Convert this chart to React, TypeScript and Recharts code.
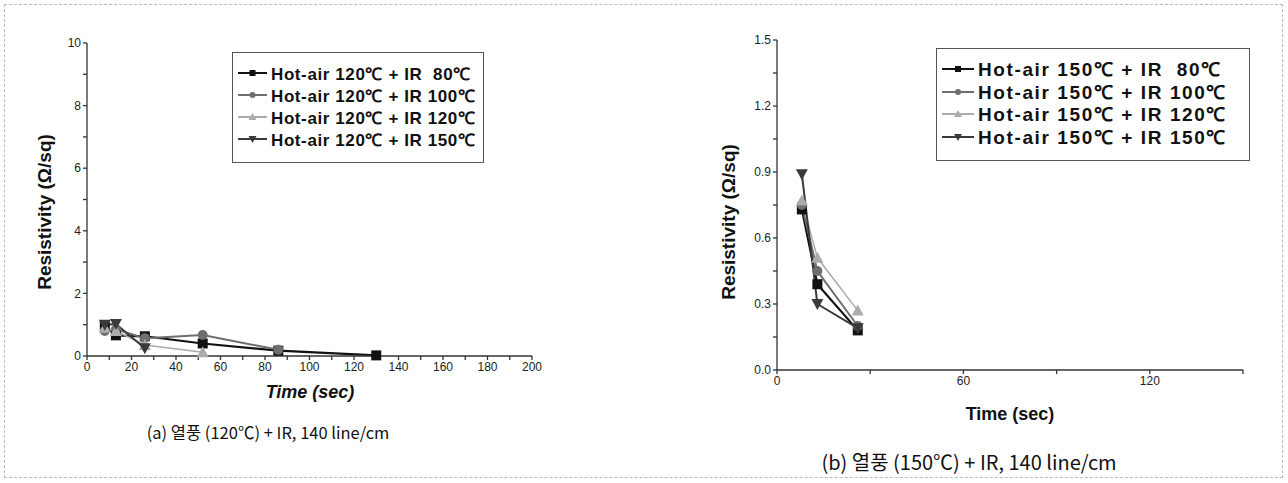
import React from "react";
import { LineChart, Line, XAxis, YAxis } from "recharts";

// (a) hot-air 120 C, times (sec) and resistivity (ohm/sq)
const timesA80 = [8, 13, 26, 52, 86, 130];
const resA80 = [0.95, 0.66, 0.63, 0.4, 0.17, 0.02];
const timesA100 = [8, 13, 26, 52, 86];
const resA100 = [0.8, 0.85, 0.57, 0.67, 0.2];
const timesA120 = [8, 13, 26, 52];
const resA120 = [0.9, 0.8, 0.35, 0.12];
const timesA150 = [8, 13, 26];
const resA150 = [1.0, 1.02, 0.25];

// (b) hot-air 150 C
const timesB = [8, 13, 26];
const resB80 = [0.73, 0.39, 0.18];
const resB100 = [0.75, 0.45, 0.2];
const resB120 = [0.77, 0.51, 0.27];
const resB150 = [0.89, 0.3, 0.19];

const irTemps = [" 80", "100", "120", "150"];
const ticksAX = [0, 10, 20, 30, 40, 50, 60, 70, 80, 90, 100, 110, 120, 130, 140, 150, 160, 170, 180, 190, 200];
const ticksAY = [0, 1, 2, 3, 4, 5, 6, 7, 8, 9, 10];
const ticksBX = [0, 30, 60, 90, 120, 150];
const ticksBY = [0, 0.15, 0.3, 0.45, 0.6, 0.75, 0.9, 1.05, 1.2, 1.35, 1.5];

type Shape = "square" | "circle" | "up" | "down";
const shapes: Shape[] = ["square", "circle", "up", "down"];
const colors = ["#111111", "#6e6e6e", "#ababab", "#3a3a3a"];
const widths = [2.2, 2, 1.5, 2];

const zip = (xs: number[], ys: number[]) => xs.map((t, i) => ({ t, r: ys[i] }));

const seriesA = [
  zip(timesA80, resA80),
  zip(timesA100, resA100),
  zip(timesA120, resA120),
  zip(timesA150, resA150),
];
const seriesB = [
  zip(timesB, resB80),
  zip(timesB, resB100),
  zip(timesB, resB120),
  zip(timesB, resB150),
];

const FONT = '"Liberation Sans", Arial, sans-serif';

function Marker({ cx, cy, shape, color, s = 5 }: { cx: number; cy: number; shape: Shape; color: string; s?: number }) {
  if (shape === "square") return <rect x={cx - s} y={cy - s} width={2 * s} height={2 * s} fill={color} />;
  if (shape === "circle") return <circle cx={cx} cy={cy} r={s} fill={color} />;
  if (shape === "up")
    return <polygon points={`${cx},${cy - s - 1} ${cx - s - 1},${cy + s} ${cx + s + 1},${cy + s}`} fill={color} />;
  return <polygon points={`${cx},${cy + s + 1} ${cx - s - 1},${cy - s} ${cx + s + 1},${cy - s}`} fill={color} />;
}

function LegendBox({ hot, left, top, width, height, fontSize, spacing, rowH, symW }: {
  hot: string; left: number; top: number; width: number; height: number;
  fontSize: number; spacing: number; rowH: number; symW: number;
}) {
  return (
    <div
      style={{
        position: "absolute",
        left,
        top,
        width,
        height,
        border: "1px solid #555",
        background: "#fff",
        boxSizing: "border-box",
        paddingTop: 9,
        fontFamily: FONT,
        fontWeight: "bold",
        fontSize,
        letterSpacing: spacing,
        color: "#111",
      }}
    >
      {irTemps.map((ir, i) => (
        <div key={ir} style={{ display: "flex", alignItems: "center", height: rowH, whiteSpace: "pre" }}>
          <svg width={symW} height={14} style={{ marginLeft: 4, marginRight: 3 }}>
            <line x1={1} y1={7} x2={symW - 1} y2={7} stroke={colors[i]} strokeWidth={2} />
            <Marker cx={symW / 2} cy={7} shape={shapes[i]} color={colors[i]} s={3} />
          </svg>
          <span>{`Hot-air ${hot}\u2103 + IR ${ir}\u2103`}</span>
        </div>
      ))}
    </div>
  );
}

const axisStyle = { stroke: "#333", strokeWidth: 1.3 };
const tickStyle = { fontFamily: FONT, fontSize: 12, fill: "#222" };

const abs = (left: number, top: number, extra: React.CSSProperties): React.CSSProperties => ({
  position: "absolute",
  left,
  top,
  whiteSpace: "nowrap",
  color: "#111",
  ...extra,
});

export default function App() {
  return (
    <div style={{ position: "absolute", left: 0, top: 0, width: 1288, height: 483, background: "#fff", fontFamily: FONT }}>
      <div
        style={{
          position: "absolute",
          left: 4,
          top: 4,
          width: 1279,
          height: 474,
          border: "1px dashed #bbb",
          boxSizing: "border-box",
        }}
      />

      {/* (a) */}
      <div style={{ position: "absolute", left: 0, top: 0 }}>
        <LineChart width={560} height={420} margin={{ top: 43, right: 28, bottom: 34, left: 47 }}>
          <XAxis
            type="number"
            dataKey="t"
            domain={[0, 200]}
            ticks={ticksAX}
            interval={0}
            tickFormatter={(v: number) => (v % 20 === 0 ? String(v) : "")}
            axisLine={axisStyle}
            tickLine={axisStyle}
            tickSize={4}
            tick={tickStyle}
            height={30}
          />
          <YAxis
            type="number"
            domain={[0, 10]}
            ticks={ticksAY}
            interval={0}
            tickFormatter={(v: number) => (v % 2 === 0 ? String(v) : "")}
            axisLine={axisStyle}
            tickLine={axisStyle}
            tickSize={4}
            tick={tickStyle}
            width={40}
          />
          {seriesA.map((d, i) => (
            <Line
              key={i}
              data={d}
              dataKey="r"
              stroke={colors[i]}
              strokeWidth={widths[i]}
              isAnimationActive={false}
              dot={(p: any) => <Marker key={p.index} cx={p.cx} cy={p.cy} shape={shapes[i]} color={colors[i]} />}
            />
          ))}
        </LineChart>
      </div>

      {/* (b) */}
      <div style={{ position: "absolute", left: 700, top: 0 }}>
        <LineChart width={560} height={420} margin={{ top: 40, right: 17, bottom: 20, left: 37 }}>
          <XAxis
            type="number"
            dataKey="t"
            domain={[0, 150]}
            ticks={ticksBX}
            interval={0}
            tickFormatter={(v: number) => (v % 60 === 0 ? String(v) : "")}
            axisLine={axisStyle}
            tickLine={axisStyle}
            tickSize={4}
            tick={tickStyle}
            height={30}
          />
          <YAxis
            type="number"
            domain={[0, 1.5]}
            ticks={ticksBY}
            interval={0}
            tickFormatter={(v: number) => (Math.round(v * 100) % 30 === 0 ? v.toFixed(1) : "")}
            axisLine={axisStyle}
            tickLine={axisStyle}
            tickSize={4}
            tick={tickStyle}
            width={40}
          />
          {seriesB.map((d, i) => (
            <Line
              key={i}
              data={d}
              dataKey="r"
              stroke={colors[i]}
              strokeWidth={widths[i]}
              isAnimationActive={false}
              dot={(p: any) => <Marker key={p.index} cx={p.cx} cy={p.cy} shape={shapes[i]} color={colors[i]} />}
            />
          ))}
        </LineChart>
      </div>

      <LegendBox hot="120" left={232} top={52} width={252} height={111} fontSize={17} spacing={0.6} rowH={22} symW={31} />
      <LegendBox hot="150" left={936} top={48} width={314} height={113} fontSize={19} spacing={1.6} rowH={22.5} symW={34} />

      {/* axis titles and captions */}
      <div style={abs(45, 212, { transform: "translate(-50%, -50%) rotate(-90deg)", fontWeight: "bold", fontSize: 19 })}>
        Resistivity (Ω/sq)
      </div>
      <div style={abs(729, 222, { transform: "translate(-50%, -50%) rotate(-90deg)", fontWeight: "bold", fontSize: 19 })}>
        Resistivity (Ω/sq)
      </div>
      <div style={abs(310, 392, { transform: "translate(-50%, -50%)", fontWeight: "bold", fontStyle: "italic", fontSize: 18 })}>
        Time (sec)
      </div>
      <div style={abs(1010, 414, { transform: "translate(-50%, -50%)", fontWeight: "bold", fontSize: 18 })}>
        Time (sec)
      </div>
      <div style={abs(268, 432, { transform: "translate(-50%, -50%)", fontFamily: '"Noto Sans CJK KR", sans-serif', fontSize: 16.5 })}>
        (a) 열풍 (120℃) + IR, 140 line/cm
      </div>
      <div style={abs(969, 461, { transform: "translate(-50%, -50%)", fontFamily: '"Noto Sans CJK KR", sans-serif', fontSize: 20 })}>
        (b) 열풍 (150℃) + IR, 140 line/cm
      </div>
    </div>
  );
}
